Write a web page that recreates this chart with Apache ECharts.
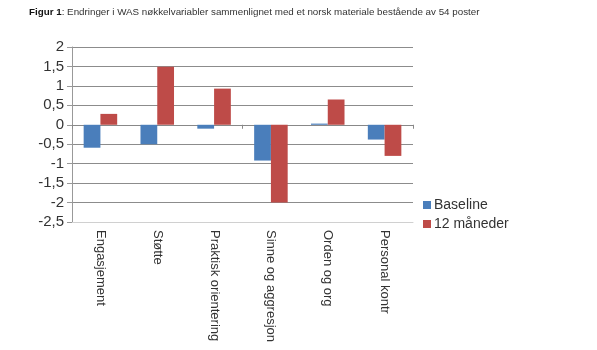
<!DOCTYPE html>
<html>
<head>
<meta charset="utf-8">
<script src="https://cdn.jsdelivr.net/npm/echarts@6/dist/echarts.min.js"></script>
<style>
  html, body { margin: 0; padding: 0; background: #fff; }
  #chart { width: 597px; height: 350px; }
</style>
</head>
<body>
<div id="chart"></div>
<script>
// WAS key variables: change at baseline and after 12 months
const categories = ['Engasjement', 'Støtte', 'Praktisk orientering', 'Sinne og aggresjon', 'Orden og org', 'Personal kontr'];
const baseline = [-0.59, -0.5, -0.1, -0.92, 0.03, -0.38];
const months12 = [0.28, 1.49, 0.93, -2.0, 0.65, -0.8];
const seriesNames = ['Baseline', '12 måneder'];
const yMin = -2.5, yMax = 2, yStep = 0.5;

const chart = echarts.init(document.getElementById('chart'));
const fmt = v => String(v).replace('.', ',');

chart.setOption({
  animation: false,
  title: {
    text: '{b|Figur 1}: Endringer i WAS nøkkelvariabler sammenlignet med et norsk materiale bestående av 54 poster',
    left: 24, top: 2,
    textStyle: {
      fontFamily: 'Arial, sans-serif', fontSize: 9.8, fontWeight: 'normal', color: '#333',
      rich: { b: { fontFamily: 'Arial, sans-serif', fontSize: 9.8, fontWeight: 'bold', color: '#111' } }
    }
  },
  legend: {
    orient: 'vertical', left: 418, top: 193,
    itemWidth: 8, itemHeight: 8, itemGap: 5,
    icon: 'rect',
    textStyle: { fontFamily: 'Arial, sans-serif', fontSize: 14, color: '#333', padding: [0, 0, 0, -2] },
    data: seriesNames
  },
  grid: { left: 72, top: 47, width: 341, height: 175, containLabel: false },
  xAxis: [
    {
      type: 'category', data: categories, position: 'bottom',
      axisLine: { onZero: false, lineStyle: { color: '#d0d0d0', width: 1 } },
      axisTick: { show: false },
      axisLabel: { rotate: -90, margin: 8, fontFamily: 'Arial, sans-serif', fontSize: 13, color: '#333' }
    },
    {
      type: 'category', data: categories, position: 'bottom',
      axisLine: { onZero: true, lineStyle: { color: '#888', width: 1 } },
      axisTick: { show: true, length: 4, lineStyle: { color: '#888' } },
      axisLabel: { show: false }
    }
  ],
  yAxis: {
    type: 'value', min: yMin, max: yMax, interval: yStep,
    axisLine: { show: true, lineStyle: { color: '#999' } },
    axisTick: { show: true, length: 5, lineStyle: { color: '#999' } },
    axisLabel: { formatter: fmt, fontFamily: 'Arial, sans-serif', fontSize: 15, color: '#333', margin: 8 },
    splitLine: {
      show: true,
      lineStyle: { color: ['#d8d8d8', '#8c8c8c', '#8c8c8c', '#8c8c8c', '#8c8c8c', '#8c8c8c', '#8c8c8c', '#8c8c8c', '#8c8c8c', '#8c8c8c'], width: 1 }
    }
  },
  series: [
    { name: seriesNames[0], type: 'bar', data: baseline, barGap: '0%', barCategoryGap: '41%', itemStyle: { color: '#4a7ebb' } },
    { name: seriesNames[1], type: 'bar', data: months12, barGap: '0%', barCategoryGap: '41%', itemStyle: { color: '#be4b48' } }
  ]
});
</script>
</body>
</html>
